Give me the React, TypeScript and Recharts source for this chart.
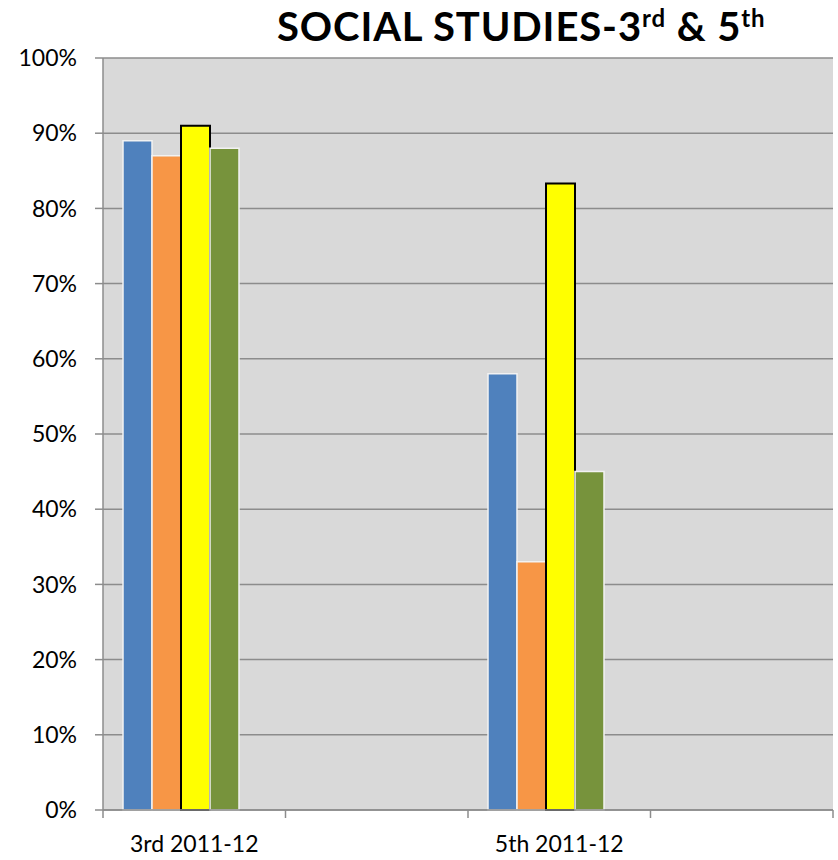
import React from "react"
import { BarChart, Bar, XAxis, YAxis, CartesianGrid } from "recharts"

// categories (2nd and 4th slots are empty in the original workbook)
const grades = ["3rd 2011-12", " ", "5th 2011-12", "  "]
const seriesA = [89, null, 58, null]
const seriesB = [87, null, 33, null]
const seriesC = [91, null, 83.3, null]
const seriesD = [88, null, 45, null]
const seriesE = [null, null, null, null] // empty 5th series, keeps Excel's spacing
const yTicks = [0, 10, 20, 30, 40, 50, 60, 70, 80, 90, 100]

const data = grades.map((g, i) => ({
  name: g,
  a: seriesA[i],
  b: seriesB[i],
  c: seriesC[i],
  d: seriesD[i],
  e: seriesE[i],
}))

const FONT = "Lato, 'Open Sans', sans-serif"
const GRID = "#8c8c8c"
const TICK = 8
const GAP = 18

// Excel puts the category tick marks on the slot boundaries, not the centres
function SlotTick(props: any) {
  const { x, y, payload, index, visibleTicksCount } = props
  const half = payload.offset ?? 0
  const top = y - TICK - GAP
  const bottom = y - GAP
  const isLast = index === visibleTicksCount - 1
  return (
    <g>
      <line x1={x - half} x2={x - half} y1={top} y2={bottom} stroke={GRID} strokeWidth={1.5} />
      {isLast && <line x1={x + half} x2={x + half} y1={top} y2={bottom} stroke={GRID} strokeWidth={1.5} />}
      <text x={x} y={y} dy="0.71em" textAnchor="middle" fontSize={23} fontFamily={FONT} fill="#000">
        {payload.value}
      </text>
    </g>
  )
}

const supStyle = { fontSize: 24, verticalAlign: "14px", lineHeight: 0 }

export default function App() {
  return (
    <div style={{ position: "absolute", left: 0, top: 0, width: 838, height: 860, background: "#fff" }}>
      <BarChart
        width={838}
        height={860}
        data={data}
        margin={{ top: 58, right: 5, left: 0, bottom: 0 }}
        barCategoryGap={20}
        barGap={0}
      >
        <CartesianGrid vertical={false} stroke={GRID} strokeWidth={1.5} fill="#d9d9d9" fillOpacity={1} />
        <XAxis
          dataKey="name"
          height={50}
          tickLine={false}
          tickSize={TICK}
          tickMargin={GAP}
          axisLine={{ stroke: GRID, strokeWidth: 1.5 }}
          interval={0}
          tick={<SlotTick />}
        />
        <YAxis
          width={103}
          domain={[0, 100]}
          ticks={yTicks}
          tickFormatter={(v) => `${v}%`}
          tickSize={TICK}
          tickMargin={GAP}
          stroke={GRID}
          strokeWidth={1.5}
          tick={{ fontSize: 23, fill: "#000", fontFamily: FONT }}
        />
        <Bar dataKey="a" fill="#4f81bd" stroke="#f2f2f2" strokeWidth={1.5} isAnimationActive={false} />
        <Bar dataKey="b" fill="#f79646" stroke="#f2f2f2" strokeWidth={1.5} isAnimationActive={false} />
        <Bar dataKey="c" fill="#ffff00" stroke="#000" strokeWidth={2} isAnimationActive={false} />
        <Bar dataKey="d" fill="#77933c" stroke="#f2f2f2" strokeWidth={1.5} isAnimationActive={false} />
        <Bar dataKey="e" fill="#8064a2" isAnimationActive={false} />
      </BarChart>
      <div
        style={{
          position: "absolute",
          left: 277,
          top: 0,
          whiteSpace: "nowrap",
          fontFamily: FONT,
          fontWeight: 700,
          fontSize: 40,
          letterSpacing: 0.9,
          lineHeight: "52px",
          color: "#000",
        }}
      >
        SOCIAL STUDIES-3<sup style={supStyle}>rd</sup> &amp; 5<sup style={supStyle}>th</sup>
      </div>
    </div>
  )
}
